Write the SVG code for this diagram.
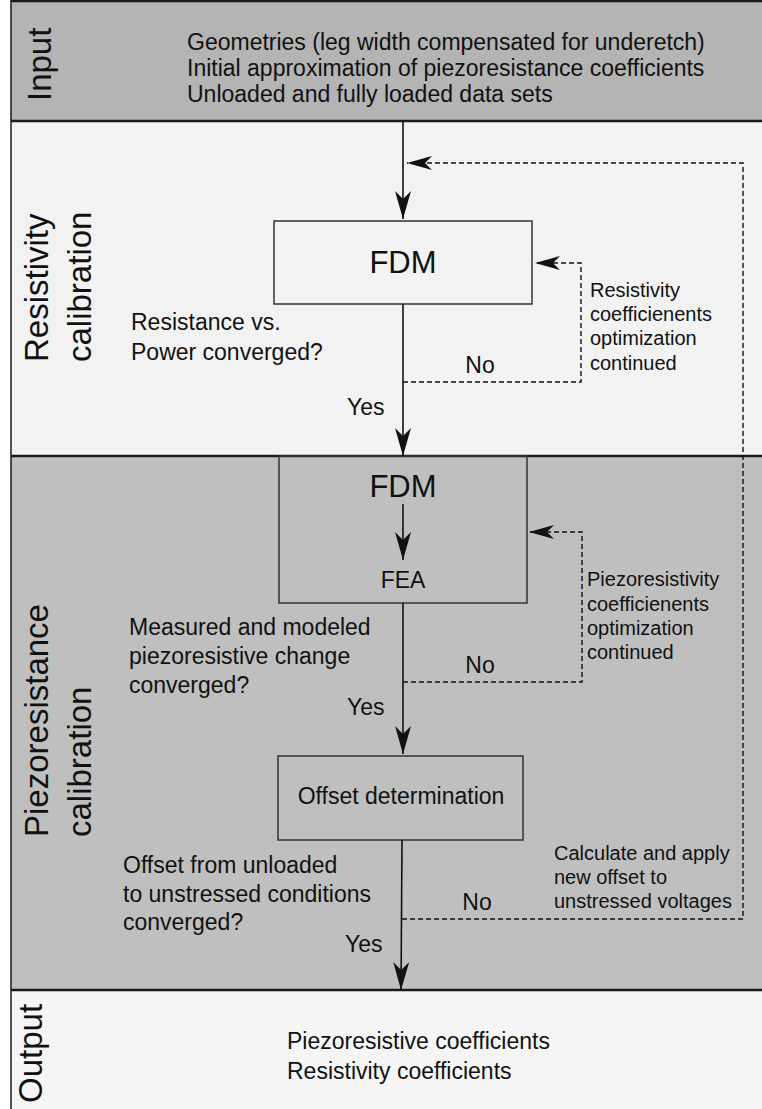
<svg xmlns="http://www.w3.org/2000/svg" width="762" height="1109" viewBox="0 0 762 1109">
  <style>
    text { font-family: "Liberation Sans", Arial, sans-serif; fill: #111; }
    .lane { font-size: 33px; }
    .body { font-size: 23px; }
    .note { font-size: 20px; }
    .big { font-size: 31px; }
    .band-line { stroke: #1a1a1a; stroke-width: 2.5; fill: none; }
    .box { fill: none; stroke: #333; stroke-width: 1.5; }
    .flow { stroke: #111; stroke-width: 1.6; fill: none; }
    .loop { stroke: #111; stroke-width: 1.4; fill: none; stroke-dasharray: 5 3; }
  </style>
  <defs>
    <marker id="arrow" viewBox="0 0 28 16" refX="28" refY="8" markerWidth="28" markerHeight="16" markerUnits="userSpaceOnUse" orient="auto">
      <path d="M28,8 L0,0 L8,8 L0,16 Z" fill="#111"/>
    </marker>
    <marker id="arrow-s" viewBox="0 0 25 14" refX="25" refY="7" markerWidth="25" markerHeight="14" markerUnits="userSpaceOnUse" orient="auto">
      <path d="M25,7 L0,0 L7,7 L0,14 Z" fill="#111"/>
    </marker>
  </defs>

  <!-- swim lanes -->
  <g id="lanes">
    <rect x="11" y="1" width="752" height="120" fill="#b4b4b4"/>
    <rect x="11" y="121" width="752" height="335" fill="#f2f2f2"/>
    <rect x="11" y="456" width="752" height="534" fill="#bfbfbf"/>
    <rect x="11" y="990" width="752" height="120" fill="#f5f5f5"/>
    <line class="band-line" x1="11" y1="1" x2="763" y2="1"/>
    <line class="band-line" x1="11" y1="121" x2="763" y2="121"/>
    <line class="band-line" x1="11" y1="456" x2="763" y2="456"/>
    <line class="band-line" x1="11" y1="990" x2="763" y2="990"/>
    <line x1="11" y1="0" x2="11" y2="1109" stroke="#1a1a1a" stroke-width="1.5"/>
  </g>

  <g id="lane-input">
    <text class="lane" transform="translate(51,101) rotate(-90)">Input</text>
    <text class="body" x="187" y="50">Geometries (leg width compensated for underetch)</text>
    <text class="body" x="187" y="76">Initial approximation of piezoresistance coefficients</text>
    <text class="body" x="187" y="102">Unloaded and fully loaded data sets</text>
  </g>

  <g id="lane-resistivity">
    <text class="lane" transform="translate(48,362) rotate(-90)">Resistivity</text>
    <text class="lane" transform="translate(91,362) rotate(-90)">calibration</text>
  </g>

  <g id="lane-piezo">
    <text class="lane" transform="translate(48,837) rotate(-90)">Piezoresistance</text>
    <text class="lane" transform="translate(91,837) rotate(-90)">calibration</text>
  </g>

  <g id="lane-output">
    <text class="lane" transform="translate(42,1103) rotate(-90)">Output</text>
    <text class="body" x="287" y="1049">Piezoresistive coefficients</text>
    <text class="body" x="287" y="1079">Resistivity coefficients</text>
  </g>

  <!-- process boxes -->
  <g id="fdm-resistivity">
    <rect class="box" x="274" y="221" width="258" height="83"/>
    <text class="big" x="403" y="273" text-anchor="middle">FDM</text>
  </g>

  <g id="fdm-fea">
    <rect class="box" x="279" y="456" width="248" height="147"/>
    <text class="big" x="403" y="497" text-anchor="middle">FDM</text>
    <text class="body" x="403" y="588" text-anchor="middle">FEA</text>
  </g>

  <g id="offset-determination">
    <rect class="box" x="278" y="756" width="245" height="84"/>
    <text class="body" x="401" y="804" text-anchor="middle">Offset determination</text>
  </g>

  <!-- decision texts -->
  <g id="check-resistance">
    <text class="body" x="131" y="330">Resistance vs.</text>
    <text class="body" x="131" y="360">Power converged?</text>
  </g>
  <g id="check-piezo">
    <text class="body" x="129" y="635">Measured and modeled</text>
    <text class="body" x="129" y="664">piezoresistive change</text>
    <text class="body" x="129" y="693">converged?</text>
  </g>
  <g id="check-offset">
    <text class="body" x="123" y="873">Offset from unloaded</text>
    <text class="body" x="123" y="902">to unstressed conditions</text>
    <text class="body" x="123" y="930">converged?</text>
  </g>

  <!-- connectors -->
  <g id="connectors">
    <line class="flow" x1="403" y1="121" x2="403" y2="219" marker-end="url(#arrow)"/>
    <line class="flow" x1="403" y1="304" x2="403" y2="456" marker-end="url(#arrow)"/>
    <line class="flow" x1="403" y1="504" x2="403" y2="560" marker-end="url(#arrow)"/>
    <line class="flow" x1="403" y1="603" x2="403" y2="754" marker-end="url(#arrow)"/>
    <line class="flow" x1="402" y1="840" x2="401" y2="990" marker-end="url(#arrow)"/>

    <polyline class="loop" points="403,382 581,382 581,263 535,263" marker-end="url(#arrow-s)"/>
    <polyline class="loop" points="403,682 582,682 582,532 529,532" marker-end="url(#arrow-s)"/>
    <polyline class="loop" points="402,919 743,919 743,163 407,163" marker-end="url(#arrow-s)"/>

    <text class="body" x="347" y="415">Yes</text>
    <text class="body" x="347" y="715">Yes</text>
    <text class="body" x="345" y="952">Yes</text>
    <text class="body" x="480" y="373" text-anchor="middle">No</text>
    <text class="body" x="480" y="673" text-anchor="middle">No</text>
    <text class="body" x="477" y="910" text-anchor="middle">No</text>

    <text class="note" x="590" y="297">Resistivity</text>
    <text class="note" x="590" y="321">coefficienents</text>
    <text class="note" x="590" y="345">optimization</text>
    <text class="note" x="590" y="370">continued</text>

    <text class="note" x="587" y="586">Piezoresistivity</text>
    <text class="note" x="587" y="611">coefficienents</text>
    <text class="note" x="587" y="635">optimization</text>
    <text class="note" x="587" y="659">continued</text>

    <text class="note" x="554" y="860">Calculate and apply</text>
    <text class="note" x="554" y="884">new offset to</text>
    <text class="note" x="554" y="908">unstressed voltages</text>
  </g>
</svg>
